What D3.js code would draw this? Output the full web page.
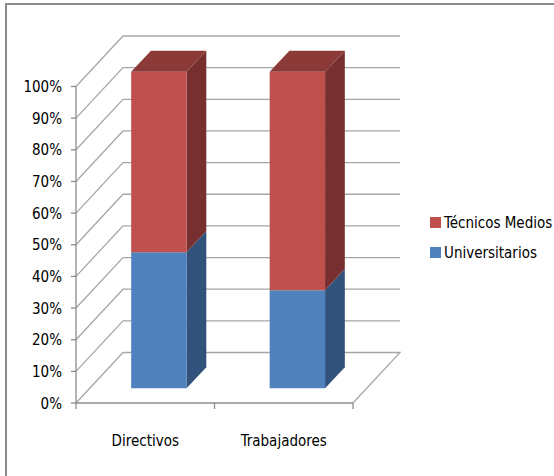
<!DOCTYPE html>
<html>
<head>
<meta charset="utf-8">
<script src="https://cdn.jsdelivr.net/npm/d3@7"></script>
<style>
  body { margin: 0; background: #fff; }
  text { font-family: "Liberation Sans Narrow", "DejaVu Sans Condensed", "Roboto Condensed", sans-serif; fill: #000; }
</style>
</head>
<body>
<div id="chart-area"></div>
<script>
// data
var categories = ["Directivos", "Trabajadores"];
var seriesNames = ["Universitarios", "Técnicos Medios"];
var universitarios = [43, 31];
var tecnicosMedios = [57, 69];
var tickValues = [0, 10, 20, 30, 40, 50, 60, 70, 80, 90, 100];

var colors = {
    "Universitarios": { front: "#4F81BD", side: "#31527A", top: "#3C6494" },
    "Técnicos Medios": { front: "#C0504D", side: "#77302F", top: "#8C3A38" }
};

var svg = d3.select("#chart-area")
    .append("svg")
        .attr("width", 554)
        .attr("height", 476);

// chart border (only top and left edges visible)
svg.append("path")
    .attr("d", "M6,476 L6,4 L554,4")
    .attr("fill", "none")
    .attr("stroke", "#8c8c8c")
    .attr("stroke-width", 2);

// scales
var y = d3.scaleLinear()
            .domain([0, 100])
            .range([403, 86.5]);

var x = d3.scaleBand()
            .domain(categories)
            .range([76, 353])
            .paddingInner(0.6)
            .paddingOuter(0.3);

// depth offset of the back wall
var depthX = 47, depthY = -50.5;
function proj(px, v, d) {
    return [px + d * depthX, y(v) + d * depthY];
}

var grid = svg.append("g");
var x0 = x.range()[0], x1 = x.range()[1];

// back wall gridlines + side wall diagonals
tickValues.forEach(function(t) {
    var a = proj(x0, t, 0), b = proj(x0, t, 1), c = proj(x1, t, 1);
    grid.append("path")
        .attr("d", "M" + a + "L" + b + (t > 0 ? "L" + c : ""))
        .attr("fill", "none")
        .attr("stroke", "#a6a6a6")
        .attr("stroke-width", 1.3);
});

// floor
var f1 = proj(x0, 0, 0), f2 = proj(x1, 0, 0), f3 = proj(x1, 0, 1), f4 = proj(x0, 0, 1);
grid.append("path")
    .attr("d", "M" + f4 + "L" + f3 + "L" + f2)
    .attr("fill", "none")
    .attr("stroke", "#a6a6a6")
    .attr("stroke-width", 1.3);
grid.append("line")
    .attr("x1", f1[0]).attr("y1", f1[1])
    .attr("x2", f2[0]).attr("y2", f2[1])
    .attr("stroke", "#8c8c8c")
    .attr("stroke-width", 1.3);

// vertical axis line and ticks
grid.append("line")
    .attr("x1", x0).attr("x2", x0)
    .attr("y1", y(0)).attr("y2", y(100))
    .attr("stroke", "#8c8c8c")
    .attr("stroke-width", 1.3);

grid.selectAll(".ytick")
    .data(tickValues)
    .enter()
    .append("line")
        .attr("x1", x0 - 5).attr("x2", x0)
        .attr("y1", function(d) { return y(d); })
        .attr("y2", function(d) { return y(d); })
        .attr("stroke", "#8c8c8c")
        .attr("stroke-width", 1.3);

svg.selectAll(".ylabel")
    .data(tickValues)
    .enter()
    .append("text")
        .attr("x", 62)
        .attr("y", function(d) { return y(d) + 5.5; })
        .attr("text-anchor", "end")
        .attr("font-size", 15)
        .text(function(d) { return d + "%"; });

// category ticks
var catTicks = [x0, x0 + x.step(), x1];
grid.selectAll(".xtick")
    .data(catTicks)
    .enter()
    .append("line")
        .attr("x1", function(d) { return d; })
        .attr("x2", function(d) { return d; })
        .attr("y1", y(0))
        .attr("y2", y(0) + 6)
        .attr("stroke", "#8c8c8c")
        .attr("stroke-width", 1.3);

svg.selectAll(".xlabel")
    .data(categories)
    .enter()
    .append("text")
        .attr("x", function(d) { return x(d) + x.bandwidth() / 2; })
        .attr("y", 446)
        .attr("text-anchor", "middle")
        .attr("font-size", 15)
        .text(function(d) { return d; });

// stacked 3D bars
var table = categories.map(function(c, i) {
    return { cat: c, "Universitarios": universitarios[i], "Técnicos Medios": tecnicosMedios[i] };
});
var stack = d3.stack().keys(seriesNames)(table);

var dFront = 0.29, dBack = 0.71;
var bars = svg.append("g");

stack.forEach(function(layer, li) {
    var col = colors[layer.key];
    layer.forEach(function(seg) {
        var c = seg.data.cat;
        var xl = x(c), xr = x(c) + x.bandwidth();
        var v0 = seg[0], v1 = seg[1];
        var fl0 = proj(xl, v0, dFront), fr0 = proj(xr, v0, dFront),
            fl1 = proj(xl, v1, dFront), fr1 = proj(xr, v1, dFront),
            br0 = proj(xr, v0, dBack), br1 = proj(xr, v1, dBack),
            bl1 = proj(xl, v1, dBack);
        // side face
        bars.append("path")
            .attr("d", "M" + fr0 + "L" + br0 + "L" + br1 + "L" + fr1 + "Z")
            .attr("fill", col.side);
        // front face
        bars.append("path")
            .attr("d", "M" + fl0 + "L" + fr0 + "L" + fr1 + "L" + fl1 + "Z")
            .attr("fill", col.front);
        // top face only for the last layer
        if (li === stack.length - 1) {
            bars.append("path")
                .attr("d", "M" + fl1 + "L" + fr1 + "L" + br1 + "L" + bl1 + "Z")
                .attr("fill", col.top);
        }
    });
});

// legend
var legend = svg.append("g");
var legendItems = seriesNames.slice().reverse();
legendItems.forEach(function(name, i) {
    var ly = 217 + i * 30;
    legend.append("rect")
        .attr("x", 430).attr("y", ly)
        .attr("width", 11).attr("height", 11)
        .attr("fill", colors[name].front);
    legend.append("text")
        .attr("x", 444).attr("y", ly + 11)
        .attr("font-size", 15)
        .text(name);
});
</script>
</body>
</html>
